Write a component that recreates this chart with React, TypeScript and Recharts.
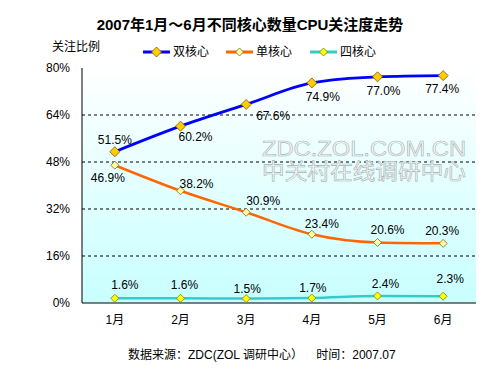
import React from 'react';
import { LineChart, Line, XAxis, YAxis, CartesianGrid, LabelList } from 'recharts';

const months = ['1月', '2月', '3月', '4月', '5月', '6月'];
const dualCore = [51.5, 60.2, 67.6, 74.9, 77.0, 77.4];
const singleCore = [46.9, 38.2, 30.9, 23.4, 20.6, 20.3];
const quadCore = [1.6, 1.6, 1.5, 1.7, 2.4, 2.3];
const yTicks = [0, 16, 32, 48, 64, 80];
const boundaryTicks = [1, 2, 3, 4, 5];

const data = months.map((m, i) => ({ month: m, dual: dualCore[i], single: singleCore[i], quad: quadCore[i] }));

// label offsets (style only)
const dualLabelOff = [[0, -12], [15, 11], [27, 12], [11, 14], [6, 14], [-1, 13]];
const singleLabelOff = [[-7, 13], [16, -7], [17, -11], [10, -10], [10, -12], [-1, -12]];
const quadLabelOff = [[10, -13], [4, -13], [1, -10], [1, -10], [8, -12], [7, -17]];

const FONT = '"Liberation Sans", Arial, "Noto Sans CJK SC", sans-serif';

const makeLabel = (off: number[][]) => (props: any) => {
  const { x, y, value, index } = props;
  const [dx, dy] = off[index] || [0, -12];
  return (
    <text x={x + dx} y={y + dy + 4} textAnchor="middle" fontSize={12} fontFamily={FONT} fill="#000">
      {value.toFixed(1)}%
    </text>
  );
};

const makeDiamond = (fill: string, stroke: string, r: number) => (props: any) => {
  const { cx, cy, index } = props;
  if (cx == null || cy == null) return <g key={index} />;
  return (
    <polygon
      key={index}
      points={`${cx},${cy - r} ${cx + r},${cy} ${cx},${cy + r} ${cx - r},${cy}`}
      fill={fill}
      stroke={stroke}
      strokeWidth={0.8}
    />
  );
};

const legendItems = [
  { name: '双核心', color: '#0000FF', fill: '#FFCC00', stroke: '#7a5a00', r: 5 },
  { name: '单核心', color: '#FF6600', fill: '#FFFF99', stroke: '#806040', r: 4 },
  { name: '四核心', color: '#33CCCC', fill: '#FFFF00', stroke: '#808000', r: 4 },
];

const CustomLegend = () => (
  <svg style={{ position: 'absolute', left: 0, top: 42 }} width={500} height={20}>
    {legendItems.map((it, i) => {
      const x0 = [143, 226, 310][i];
      return (
        <g key={it.name}>
          <line x1={x0} x2={x0 + 27} y1={10} y2={10} stroke={it.color} strokeWidth={3} />
          <polygon
            points={`${x0 + 13.5},${10 - it.r} ${x0 + 13.5 + it.r},10 ${x0 + 13.5},${10 + it.r} ${x0 + 13.5 - it.r},10`}
            fill={it.fill}
            stroke={it.stroke}
            strokeWidth={0.8}
          />
          <text x={x0 + 30} y={14} fontSize={12} fontFamily={FONT} fill="#000">
            {it.name}
          </text>
        </g>
      );
    })}
  </svg>
);

const EmptyTick = () => <g />;

export default function App() {
  return (
    <div style={{ position: 'absolute', left: 0, top: 0, width: 500, height: 375, background: '#fff', fontFamily: FONT }}>
      <div style={{ position: 'absolute', left: 0, top: 13, width: 500, textAlign: 'center', fontSize: 15, fontWeight: 'bold', color: '#000', fontFamily: FONT }}>
        2007年1月～6月不同核心数量CPU关注度走势
      </div>
      <div style={{ position: 'absolute', left: 52, top: 37, fontSize: 12, color: '#000', fontFamily: FONT }}>关注比例</div>
      <LineChart width={500} height={375} data={data} margin={{ top: 68, right: 24, left: 0, bottom: 42 }}>
        <defs>
          <linearGradient id="bgGrad" x1="0" y1="0" x2="0" y2="1">
            <stop offset="0%" stopColor="#FFFFFF" />
            <stop offset="100%" stopColor="#C8FFFF" />
          </linearGradient>
        </defs>
        <CartesianGrid
          vertical={false}
          fill="url(#bgGrad)"
          stroke="#000"
          strokeDasharray="3 3"
          horizontalValues={[16, 32, 48, 64]}
        />
        <XAxis
          dataKey="month"
          scale="band"
          height={30}
          axisLine={{ stroke: '#000' }}
          tickLine={false}
          tickSize={6}
          tickMargin={6}
          tick={{ fontSize: 12, fill: '#000', fontFamily: FONT }}
        />
        <XAxis
          xAxisId="b"
          type="number"
          domain={[0, 6]}
          ticks={boundaryTicks}
          allowDataOverflow
          mirror
          height={0}
          axisLine={false}
          tick={EmptyTick}
          tickSize={4}
          tickLine={{ stroke: '#000' }}
        />
        <XAxis xAxisId="top" orientation="top" dataKey="month" scale="band" height={0} tick={false} tickLine={false} axisLine={{ stroke: '#808080' }} />
        <YAxis
          domain={[0, 80]}
          ticks={yTicks}
          width={82}
          interval={0}
          axisLine={{ stroke: '#000' }}
          tickLine={false}
          tickSize={0}
          tickMargin={12}
          tickFormatter={(v: number) => `${v}%`}
          tick={{ fontSize: 12, fill: '#000', fontFamily: FONT }}
        />
        <YAxis yAxisId="r" orientation="right" width={0} domain={[0, 80]} tick={false} tickLine={false} axisLine={{ stroke: '#808080' }} />
        <Line
          type="monotone"
          dataKey="quad"
          name="四核心"
          stroke="#33CCCC"
          strokeWidth={2.5}
          dot={makeDiamond('#FFFF00', '#808000', 4)}
          isAnimationActive={false}
        >
          <LabelList dataKey="quad" content={makeLabel(quadLabelOff)} />
        </Line>
        <Line
          type="monotone"
          dataKey="single"
          name="单核心"
          stroke="#FF6600"
          strokeWidth={2.5}
          dot={makeDiamond('#FFFF99', '#806040', 4)}
          isAnimationActive={false}
        >
          <LabelList dataKey="single" content={makeLabel(singleLabelOff)} />
        </Line>
        <Line
          type="monotone"
          dataKey="dual"
          name="双核心"
          stroke="#0000FF"
          strokeWidth={2.8}
          dot={makeDiamond('#FFCC00', '#7a5a00', 5)}
          isAnimationActive={false}
        >
          <LabelList dataKey="dual" content={makeLabel(dualLabelOff)} />
        </Line>
      </LineChart>
      <CustomLegend />
      <svg style={{ position: 'absolute', left: 0, top: 0, pointerEvents: 'none' }} width={500} height={375}>
        <text x={262} y={156} fontSize={22} fontFamily={FONT} fill="#F4FAFA" stroke="#A8B0B0" strokeWidth={0.6} textLength={204} lengthAdjust="spacingAndGlyphs">
          ZDC.ZOL.COM.CN
        </text>
        <text x={262} y={179} fontSize={22} fontFamily={FONT} fill="#F4FAFA" stroke="#A8B0B0" strokeWidth={0.6} textLength={204} lengthAdjust="spacingAndGlyphs">
          中关村在线调研中心
        </text>
      </svg>
      <div style={{ position: 'absolute', left: 0, top: 345, width: 500, fontSize: 12, color: '#000', fontFamily: FONT, whiteSpace: 'pre' }}>
        <span style={{ position: 'absolute', left: 128 }}>数据来源：ZDC(ZOL 调研中心）    时间：2007.07</span>
      </div>
    </div>
  );
}
